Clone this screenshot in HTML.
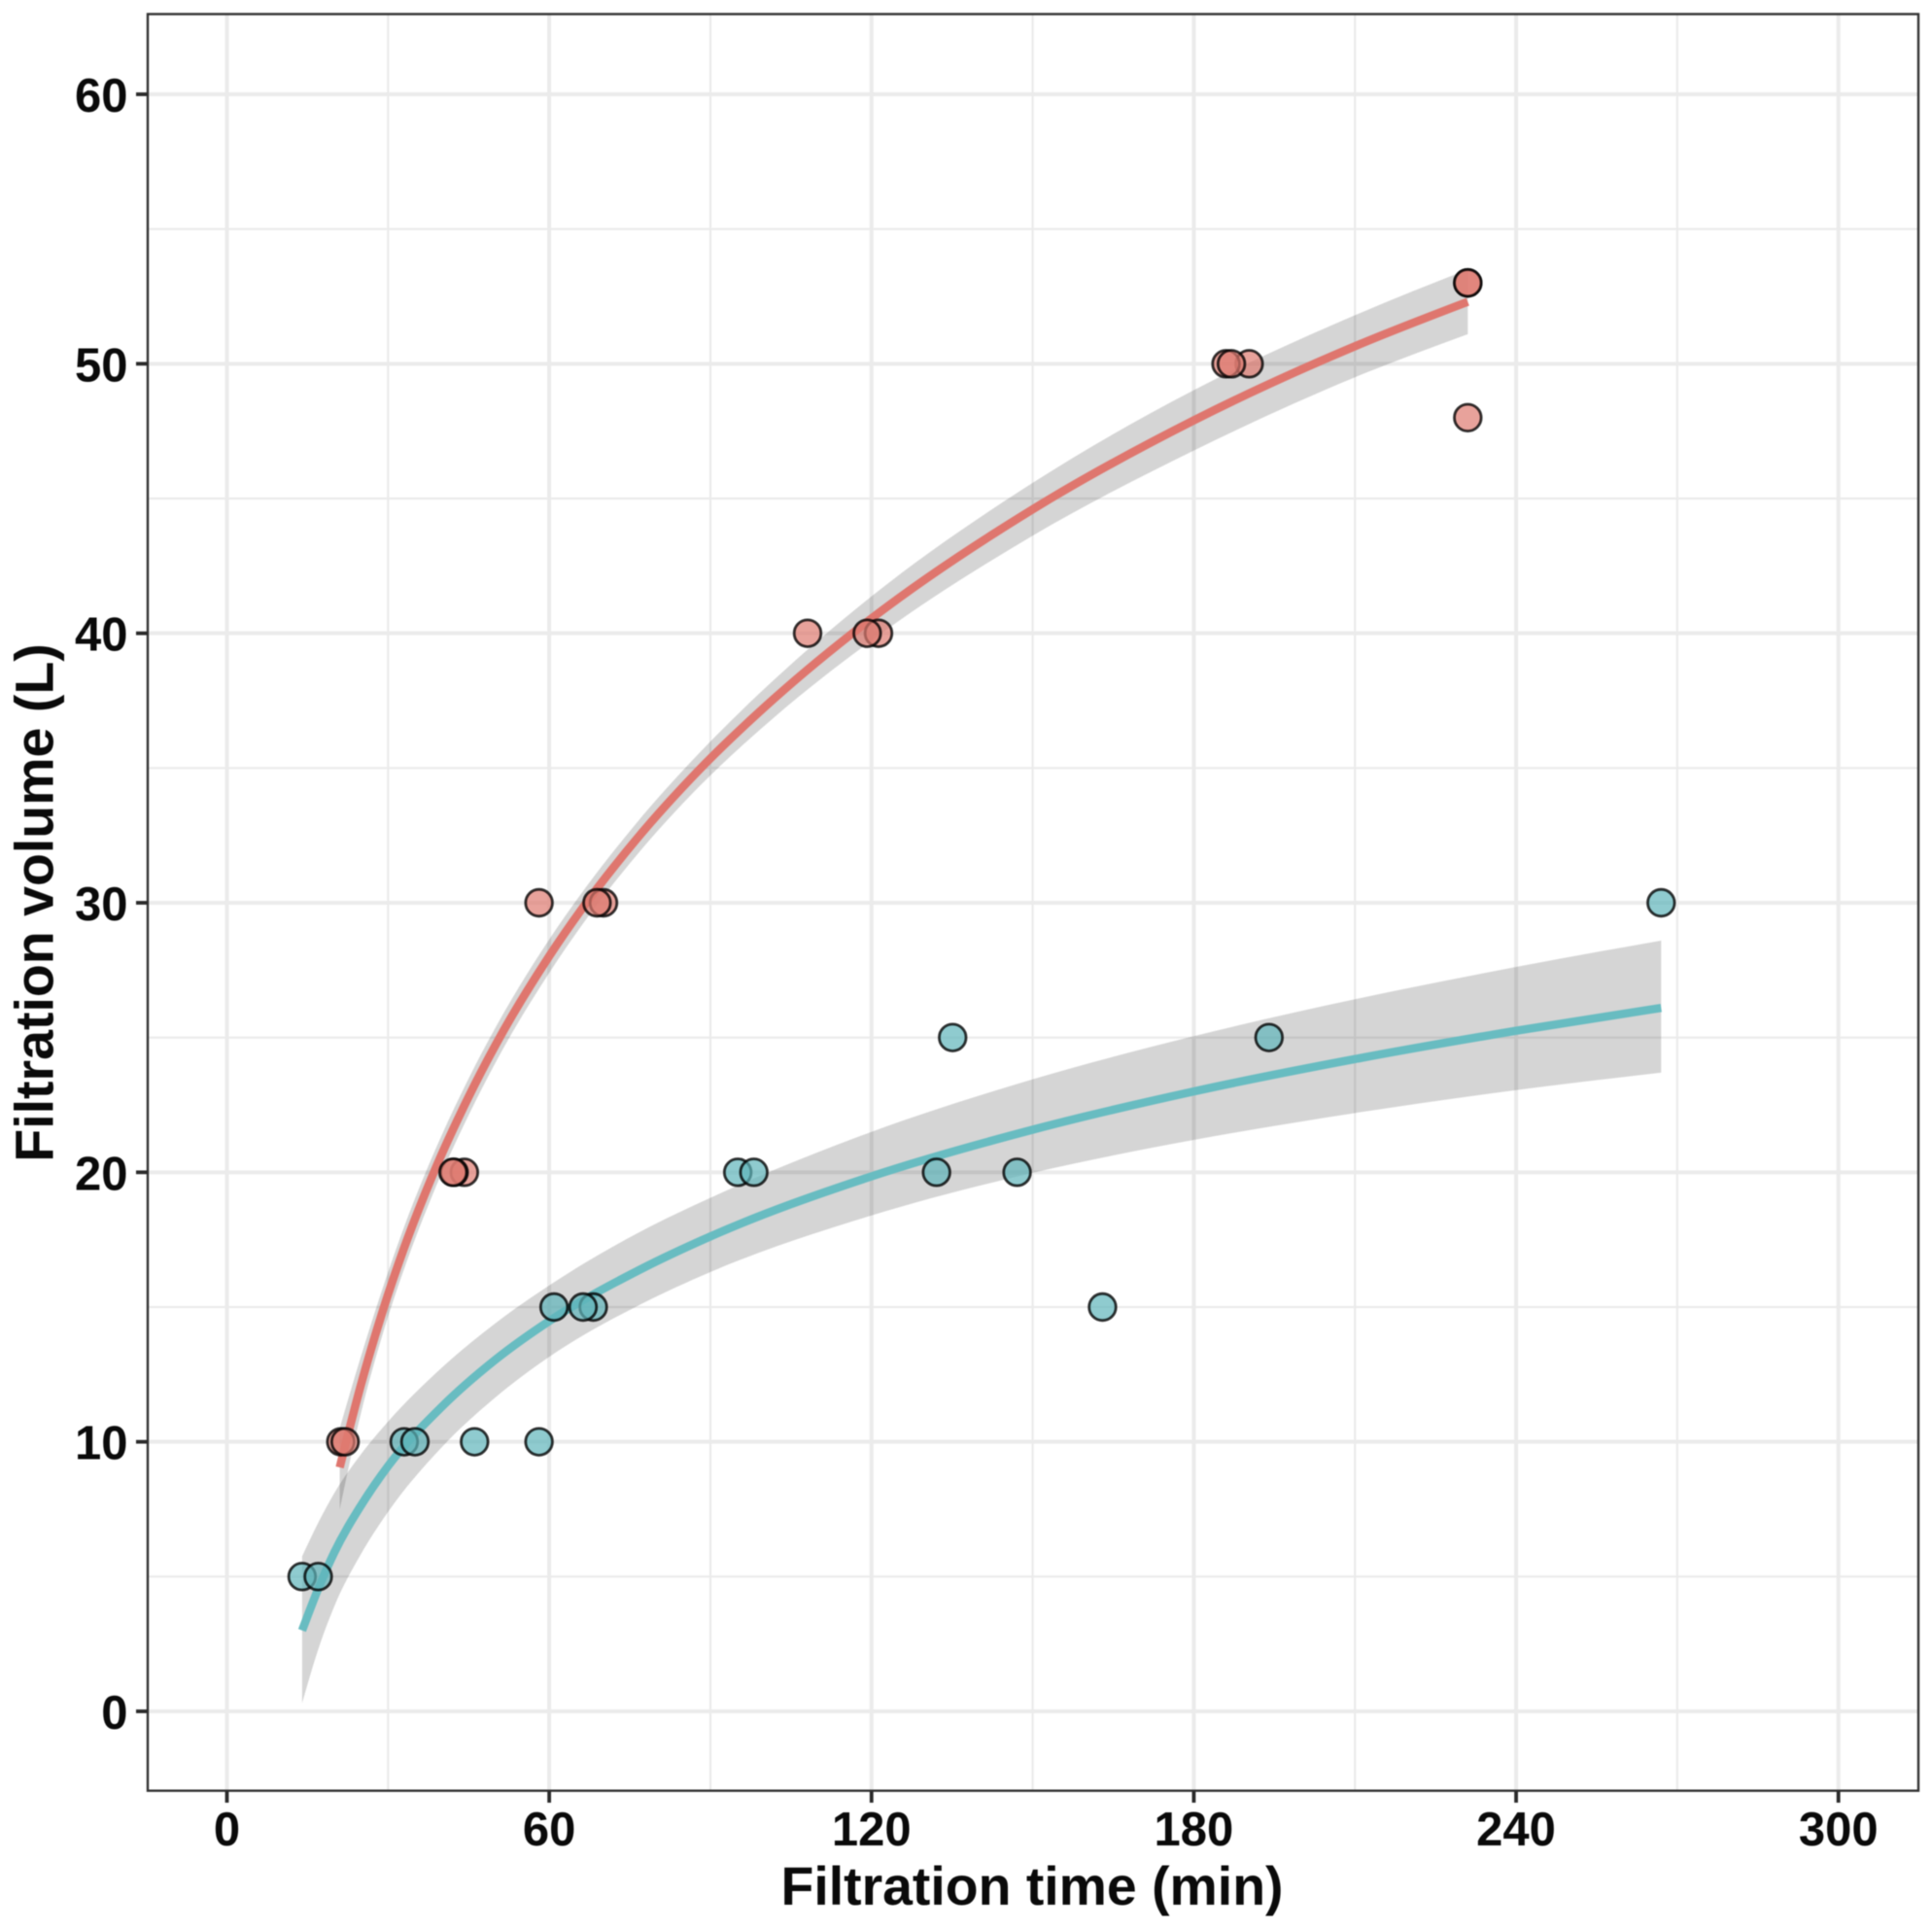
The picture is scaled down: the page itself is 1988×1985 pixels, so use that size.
<!DOCTYPE html>
<html lang="en">
<head>
<meta charset="utf-8">
<title>Filtration volume vs filtration time</title>
<style>
html,body{margin:0;padding:0;background:#fff;}
svg{display:block;filter:blur(0.5px);}
text{font-family:"Liberation Sans",Arial,sans-serif;font-weight:bold;fill:#0a0a0a;}
</style>
</head>
<body>
<svg id="chart" width="1988" height="1985" viewBox="0 0 1988 1985" xmlns="http://www.w3.org/2000/svg">
  <rect x="0" y="0" width="1988" height="1985" fill="#ffffff"/>
  <g id="grid"></g>
  <g id="ribbons"></g>
  <g id="lines"></g>
  <g id="points"></g>
  <rect x="152" y="14.5" width="1822" height="1828.2" fill="none" stroke="#333333" stroke-width="2.4"/>
  <g id="axes"></g>
  <text x="1062" y="1960" font-size="55.4" text-anchor="middle">Filtration time (min)</text>
  <text transform="translate(54.5,929) rotate(-90)" font-size="55.5" text-anchor="middle">Filtration volume (L)</text>
</svg>
<script>
const xMajorTicks = [0, 60, 120, 180, 240, 300];
const xMinorTicks = [30, 90, 150, 210, 270];
const yMajorTicks = [0, 10, 20, 30, 40, 50, 60];
const yMinorTicks = [5, 15, 25, 35, 45, 55];

const redTimes = [231, 231, 231, 190.3, 186, 187, 121.3, 119.2, 108.1, 70.1, 68.9, 58.1, 44.2, 42.3, 42.1, 21.2, 22];
const redVolumes = [48, 53, 53, 50, 50, 50, 40, 40, 40, 30, 30, 30, 20, 20, 20, 10, 10];
const tealTimes = [14, 17, 33, 35, 46.1, 58.1, 60.9, 68.2, 66.3, 95.1, 98.1, 132.1, 135.1, 147.1, 163, 194, 267];
const tealVolumes = [5, 5, 10, 10, 10, 10, 15, 15, 15, 20, 20, 20, 25, 20, 15, 25, 30];

const redFitTimes = [21, 25, 29, 33, 38, 45, 50, 60, 66, 76, 88, 102, 120, 150, 180, 210, 231];
const redFit = [9.05, 12.15, 14.85, 17.2, 19.75, 22.8, 24.72, 28.02, 29.75, 32.3, 34.95, 37.6, 40.55, 44.6, 47.9, 50.65, 52.3];
const redUpper = [10.5, 13.2, 15.7, 17.98, 20.47, 23.48, 25.37, 28.64, 30.35, 32.9, 35.57, 38.3, 41.37, 45.58, 49.02, 51.8, 53.5];
const redLower = [7.5, 11.1, 14.0, 16.42, 19.03, 22.12, 24.07, 27.4, 29.15, 31.7, 34.33, 36.9, 39.73, 43.62, 46.78, 49.5, 51.1];

const tealFitTimes = [14, 17, 20, 25, 30, 40, 50, 60, 77, 90, 120, 150, 180, 210, 240, 267];
const tealFit = [3.0, 4.55, 5.9, 7.65, 9.1, 11.3, 13.05, 14.48, 16.4, 17.62, 19.85, 21.58, 23.0, 24.2, 25.25, 26.1];
const tealUpper = [5.75, 7.0, 8.1, 9.55, 10.75, 12.75, 14.4, 15.8, 17.8, 19.05, 21.5, 23.45, 25.05, 26.42, 27.62, 28.6];
const tealLower = [0.3, 2.3, 3.9, 5.85, 7.4, 9.8, 11.65, 13.15, 15.1, 16.3, 18.4, 19.98, 21.2, 22.2, 23.05, 23.7];

const SVGNS = 'http://www.w3.org/2000/svg';
const gridG = document.getElementById('grid');
const ribbonG = document.getElementById('ribbons');
const lineG = document.getElementById('lines');
const pointG = document.getElementById('points');
const axesG = document.getElementById('axes');

function xScale(v) { return 233.5 + v * (1891.7 - 233.5) / 300; }
function yScale(v) { return 1761 - v * (1761 - 97) / 60; }

function smoothPath(xs, ys, start) {
  const px = xs.map(xScale);
  const py = ys.map(yScale);
  const n = px.length;
  const h = [], s = [], m = [];
  for (let i = 0; i < n - 1; i++) {
    h.push(px[i + 1] - px[i]);
    s.push((py[i + 1] - py[i]) / h[i]);
  }
  for (let i = 1; i < n - 1; i++) {
    m[i] = (h[i] * s[i - 1] + h[i - 1] * s[i]) / (h[i - 1] + h[i]);
  }
  m[0] = (3 * s[0] - m[1]) / 2;
  m[n - 1] = (3 * s[n - 2] - m[n - 2]) / 2;
  let d = start ? start : 'M' + px[0].toFixed(2) + ' ' + py[0].toFixed(2);
  for (let i = 0; i < n - 1; i++) {
    const c1x = px[i] + h[i] / 3, c1y = py[i] + m[i] * h[i] / 3;
    const c2x = px[i + 1] - h[i] / 3, c2y = py[i + 1] - m[i + 1] * h[i] / 3;
    d += ' C' + c1x.toFixed(2) + ' ' + c1y.toFixed(2) + ' ' + c2x.toFixed(2) + ' ' + c2y.toFixed(2) + ' ' + px[i + 1].toFixed(2) + ' ' + py[i + 1].toFixed(2);
  }
  return d;
}

function drawGridLine(x1, y1, x2, y2, width, name) {
  const el = document.createElementNS(SVGNS, 'line');
  el.setAttribute('x1', x1);
  el.setAttribute('y1', y1);
  el.setAttribute('x2', x2);
  el.setAttribute('y2', y2);
  el.setAttribute('stroke', '#ebebeb');
  el.setAttribute('stroke-width', width);
  
  
  gridG.appendChild(el);
}

xMinorTicks.forEach(function (v) { drawGridLine(xScale(v), 14.5, xScale(v), 1842.7, 2.2, 'x-minor-gridline'); });
yMinorTicks.forEach(function (v) { drawGridLine(152, yScale(v), 1974, yScale(v), 2.2, 'y-minor-gridline'); });
xMajorTicks.forEach(function (v) { drawGridLine(xScale(v), 14.5, xScale(v), 1842.7, 4, 'x-major-gridline'); });
yMajorTicks.forEach(function (v) { drawGridLine(152, yScale(v), 1974, yScale(v), 4, 'y-major-gridline'); });

function drawRibbon(times, upper, lower, name) {
  const top = smoothPath(times, upper);
  const revTimes = times.slice().reverse();
  const revLower = lower.slice().reverse();
  const d = smoothPath(revTimes, revLower, top + ' L' + xScale(revTimes[0]).toFixed(2) + ' ' + yScale(revLower[0]).toFixed(2)) + ' Z';
  const el = document.createElementNS(SVGNS, 'path');
  el.setAttribute('d', d);
  el.setAttribute('fill', '#000000');
  el.setAttribute('fill-opacity', '0.165');
  
  
  ribbonG.appendChild(el);
}

drawRibbon(redFitTimes, redUpper, redLower, 'red-confidence-ribbon');
drawRibbon(tealFitTimes, tealUpper, tealLower, 'teal-confidence-ribbon');

function drawFit(times, values, color, name) {
  const el = document.createElementNS(SVGNS, 'path');
  el.setAttribute('d', smoothPath(times, values));
  el.setAttribute('fill', 'none');
  el.setAttribute('stroke', color);
  el.setAttribute('stroke-width', '8.5');
  
  
  lineG.appendChild(el);
}

drawFit(redFitTimes, redFit, '#df766e', 'red-fit-line');
drawFit(tealFitTimes, tealFit, '#68bcc1', 'teal-fit-line');

function drawPoints(times, volumes, color, name) {
  times.forEach(function (t, i) {
    const el = document.createElementNS(SVGNS, 'circle');
    el.setAttribute('cx', xScale(t));
    el.setAttribute('cy', yScale(volumes[i]));
    el.setAttribute('r', '13.8');
    el.setAttribute('fill', color);
    el.setAttribute('fill-opacity', '0.7');
    el.setAttribute('stroke', '#000000');
    el.setAttribute('stroke-opacity', '0.8');
    el.setAttribute('stroke-width', '2.8');
    
    
    pointG.appendChild(el);
  });
}

drawPoints(tealTimes, tealVolumes, '#5fb5bb', 'teal-data-point');
drawPoints(redTimes, redVolumes, '#de7a70', 'red-data-point');

xMajorTicks.forEach(function (v) {
  const tick = document.createElementNS(SVGNS, 'line');
  tick.setAttribute('x1', xScale(v));
  tick.setAttribute('x2', xScale(v));
  tick.setAttribute('y1', 1843);
  tick.setAttribute('y2', 1855);
  tick.setAttribute('stroke', '#2a2a2a');
  tick.setAttribute('stroke-width', '3.8');
  
  
  axesG.appendChild(tick);
  const label = document.createElementNS(SVGNS, 'text');
  label.setAttribute('x', xScale(v));
  label.setAttribute('y', 1899);
  label.setAttribute('font-size', '49');
  label.setAttribute('text-anchor', 'middle');
  
  
  label.textContent = String(v);
  axesG.appendChild(label);
});

yMajorTicks.forEach(function (v) {
  const tick = document.createElementNS(SVGNS, 'line');
  tick.setAttribute('x1', 140);
  tick.setAttribute('x2', 152);
  tick.setAttribute('y1', yScale(v));
  tick.setAttribute('y2', yScale(v));
  tick.setAttribute('stroke', '#2a2a2a');
  tick.setAttribute('stroke-width', '3.8');
  
  
  axesG.appendChild(tick);
  const label = document.createElementNS(SVGNS, 'text');
  label.setAttribute('x', 131.5);
  label.setAttribute('y', yScale(v) + 18);
  label.setAttribute('font-size', '49');
  label.setAttribute('text-anchor', 'end');
  
  
  label.textContent = String(v);
  axesG.appendChild(label);
});
</script>
</body>
</html>
